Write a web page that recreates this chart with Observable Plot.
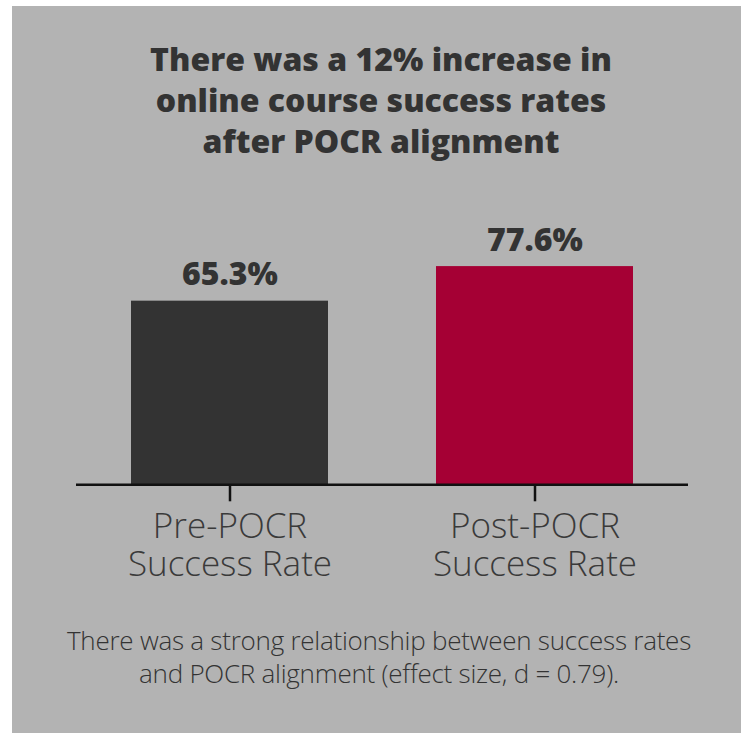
<!DOCTYPE html>
<html>
<head>
<meta charset="utf-8">
<script src="https://cdn.jsdelivr.net/npm/d3@7"></script>
<script src="https://cdn.jsdelivr.net/npm/@observablehq/plot@0.6"></script>
<style>
  html, body { margin: 0; padding: 0; background: #ffffff; width: 741px; height: 733px; overflow: hidden; }
  #panel { position: absolute; left: 12px; top: 6px; width: 729px; height: 727px; background: #b3b3b3; }
  #title { position: absolute; left: 0; top: 38px; width: 762px; text-align: center;
    font-family: "Open Sans", Lato, sans-serif; font-weight: 800; font-size: 32px; line-height: 41px; color: #333333; }
  #chart { position: absolute; left: 0; top: 180px; }
  #footer { position: absolute; left: 0; top: 624px; width: 758px; text-align: center;
    font-family: "Open Sans", Lato, sans-serif; font-weight: 300; font-size: 26px; line-height: 33px; color: #333333; letter-spacing: -0.25px; }
</style>
</head>
<body>
<div id="panel"></div>
<div id="title">There was a 12% increase in<br>online course success rates<br>after POCR alignment</div>
<div id="chart"></div>
<div id="footer">There was a strong relationship between success rates<br>and POCR alignment (effect size, d = 0.79).</div>
<script>
const categories = ["Pre-POCR\nSuccess Rate", "Post-POCR\nSuccess Rate"];
const rates = [65.3, 77.6];
const barColors = ["#333333", "#a50034"];

const data = categories.map((c, i) => ({category: c, rate: rates[i], color: barColors[i]}));

const chart = Plot.plot({
  width: 741,
  height: 420,
  marginLeft: 76,
  marginRight: 53,
  marginTop: 23.1,
  marginBottom: 115.7,
  style: {background: "transparent", overflow: "visible"},
  x: {domain: categories, paddingInner: 0.355, paddingOuter: 0.178, label: null},
  y: {domain: [0, 100], axis: null},
  marks: [
    Plot.barY(data, {x: "category", y: "rate", fill: "color"}),
    Plot.ruleY([0], {stroke: "#111111", strokeWidth: 2.5}),
    Plot.axisX({
      tickSize: 17,
      tickPadding: 10,
      stroke: "#111111",
      strokeWidth: 2.5,
      fontSize: 35,
      lineHeight: 1.07,
      fill: "#3a3a3a",
      fontFamily: "'Open Sans', Lato, sans-serif",
      fontWeight: 300
    }),
    Plot.text(data, {
      x: "category", y: "rate",
      text: d => d.rate.toFixed(1) + "%",
      lineAnchor: "bottom",
      dy: -16,
      fontSize: 32,
      fontWeight: 800,
      fontFamily: "'Open Sans', Lato, sans-serif",
      fill: "#333333"
    })
  ]
});
document.getElementById("chart").appendChild(chart);
</script>
</body>
</html>
